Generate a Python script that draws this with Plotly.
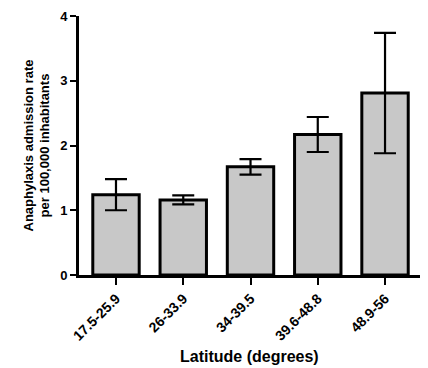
import plotly.graph_objects as go

categories = ["17.5-25.9", "26-33.9", "34-39.5", "39.6-48.8", "48.9-56"]
rates = [1.24, 1.16, 1.67, 2.17, 2.81]
errors = [0.24, 0.07, 0.12, 0.27, 0.93]
y_ticks = [0, 1, 2, 3, 4]

fig = go.Figure(go.Bar(
    x=categories, y=rates,
    marker=dict(color="#c8c8c8", line=dict(color="black", width=3)),
    error_y=dict(type="data", array=errors, visible=True, color="black", thickness=2.2, width=11),
))

# page body has an 8px default margin, so the figure is 8px smaller and offset
font_family = "Liberation Sans, Arial, sans-serif"
fig.update_layout(
    width=420, height=360,
    margin=dict(l=71, r=8, t=8, b=93),
    plot_bgcolor="white", paper_bgcolor="white",
    bargap=0.31,
    showlegend=False,
    font=dict(family=font_family, color="black"),
)
fig.update_xaxes(
    range=[-0.55, 4.52], automargin=False,
    showline=True, linecolor="black", linewidth=3,
    ticks="outside", ticklen=7, tickwidth=2, tickcolor="black",
    tickangle=-45, tickfont=dict(size=14, family=font_family, weight="bold"),
    showgrid=False, zeroline=False,
)
fig.update_yaxes(
    range=[0, 4], tickvals=y_ticks, automargin=False, ticklabeloverflow="allow",
    showline=True, linecolor="black", linewidth=3,
    ticks="outside", ticklen=6, tickwidth=2, tickcolor="black",
    tickfont=dict(size=13, family=font_family, weight="bold"),
    showgrid=False, zeroline=False,
)
plot_h = 360 - 8 - 93
fig.add_annotation(
    text="<b>Latitude (degrees)</b>", xref="paper", yref="paper",
    x=0.5, y=-(356 - 275) / plot_h, xanchor="center", yanchor="middle",
    showarrow=False, font=dict(size=16, family=font_family),
)
fig.add_annotation(
    text="<b>Anaphylaxis admission rate<br>per 100,000 inhabitants</b>",
    xref="paper", yref="paper",
    x=-(79 - 36) / 341, y=0.5, xanchor="center", yanchor="middle",
    textangle=-90, showarrow=False, font=dict(size=13, family=font_family),
)
fig.write_html("out.html")
